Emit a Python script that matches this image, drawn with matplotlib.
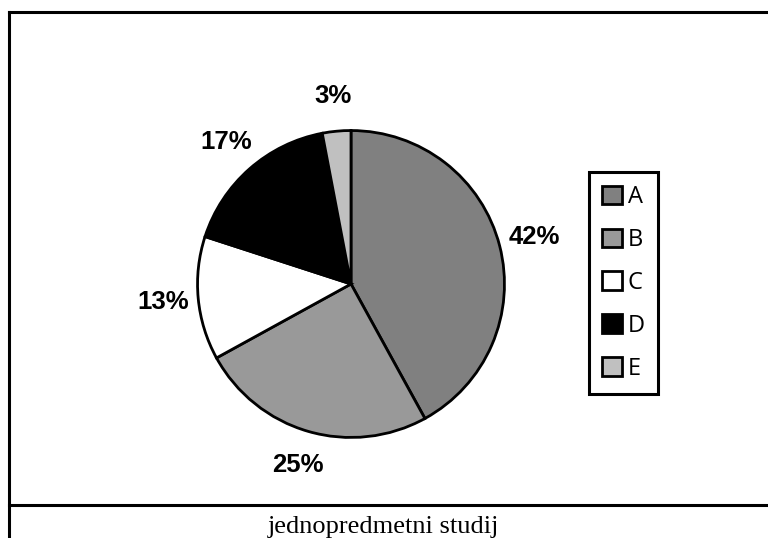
import matplotlib
matplotlib.use("Agg")
import matplotlib.pyplot as plt
from matplotlib.lines import Line2D
from matplotlib.patches import Patch

categories = ["A", "B", "C", "D", "E"]
values = [42, 25, 13, 17, 3]
colors = ["#808080", "#999999", "#ffffff", "#000000", "#c0c0c0"]
caption = "jednopredmetni studij"

W, H = 768, 538
fig = plt.figure(figsize=(W / 100, H / 100), dpi=100)

def fx(px):
    return px / W

def fy(py):
    return 1 - py / H

# frame lines
lw = 2.2
fig.add_artist(Line2D([fx(9), fx(9)], [fy(12), fy(540)], color="black", lw=lw, transform=fig.transFigure))
fig.add_artist(Line2D([fx(9), fx(770)], [fy(12), fy(12)], color="black", lw=lw, transform=fig.transFigure))
fig.add_artist(Line2D([fx(9), fx(770)], [fy(505), fy(505)], color="black", lw=lw, transform=fig.transFigure))

# pie axes
cx, cy, r = 351, 284, 155
ax = fig.add_axes([fx(cx - r), fy(cy + r), fx(2 * r), (2 * r) / H])
wedges, texts, autotexts = ax.pie(
    values, colors=colors, startangle=90, counterclock=False,
    autopct=lambda p: f"{p:.0f}%", pctdistance=1.23,
    wedgeprops=dict(edgecolor="black", linewidth=2.0),
    textprops=dict(fontsize=18.5, fontweight="bold", family="Liberation Sans", color="black"),
)
ax.set_xlim(-1.01, 1.01)
ax.set_ylim(-1.01, 1.01)
ax.set_aspect("equal")
for t in autotexts:
    t.set_clip_on(False)

# legend
handles = [Patch(facecolor=c, edgecolor="black", linewidth=2.0) for c in colors]
leg = fig.legend(handles, categories, loc="center",
                 bbox_to_anchor=(fx(623.5), fy(283)),
                 prop=dict(family="Open Sans", size=17),
                 frameon=True, fancybox=False, edgecolor="black", framealpha=1,
                 handlelength=0.85, handleheight=0.85, handletextpad=0.25,
                 labelspacing=0.8, borderpad=0.55, borderaxespad=0)
leg.get_frame().set_linewidth(2.2)

fig.text(fx(383), fy(533), caption, ha="center", va="baseline",
         family="Liberation Serif", fontsize=19)

fig.savefig("out.png", dpi=100)
